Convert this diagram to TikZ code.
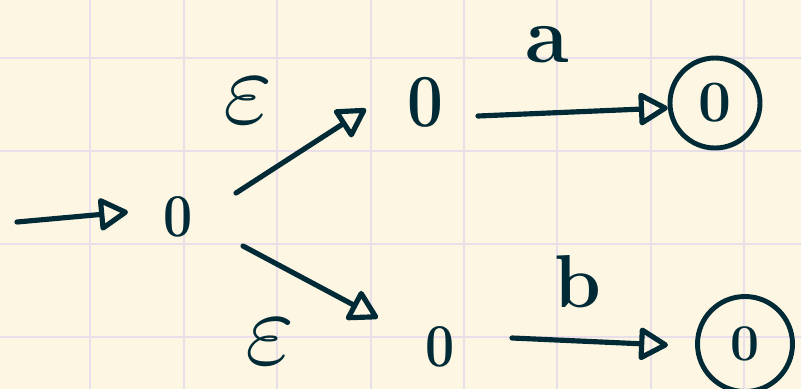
\documentclass[tikz,border=0pt]{standalone}
\usepackage{tikz}
\usetikzlibrary{arrows.meta}

\definecolor{paper}{HTML}{FDF6E3}
\definecolor{ink}{HTML}{002B36}
\definecolor{gridline}{HTML}{E8DFEA}

\begin{document}
\begin{tikzpicture}[x=0.03cm, y=-0.03cm,
    state/.style={circle, inner sep=0pt, minimum size=1.5cm, text=ink, xscale=0.85,
        font=\fontsize{52}{62}\selectfont\bfseries},
    accept/.style={circle, draw=ink, line width=4.2pt, inner sep=0pt,
        minimum size=2.7cm, text=ink, font=\fontsize{50}{60}\selectfont\bfseries},
    lbl/.style={inner sep=0pt, text=ink},
    edge/.style={draw=ink, line width=4.4pt, line cap=round,
        -{Triangle[open, round, length=0.95cm, width=1.05cm]}}]

    % パラメータの定義
    \pgfmathsetmacro{\gap}{93.4}

    % 背景と方眼
    \useasboundingbox (0,0) rectangle (801,389);
    \fill[paper] (0,0) rectangle (801,389);
    \foreach \i in {0,...,7}
        \draw[gridline, line width=1.6pt] ({90.4+\gap*\i},0) -- ({90.4+\gap*\i},389);
    \foreach \j in {0,...,3}
        \draw[gridline, line width=1.6pt] (0,{58+93*\j}) -- (801,{58+93*\j});

    % 状態の定義
    \node[state] (q0) at (178,217) {0};
    \node[state, font=\fontsize{64}{74}\selectfont\bfseries] (q1) at (425,102) {0};
    \node[state] (q2) at (440,347) {0};
    \node[accept] (f1) at (715,103) {0};
    \node[accept, minimum size=2.85cm, font=\fontsize{44}{52}\selectfont\bfseries] (f2) at (745,344) {0};

    % ラベルの定義
    \node[lbl, scale=9] (eps1) at (248,101) {$\varepsilon$};
    \node[lbl, font=\fontsize{68}{80}\selectfont\bfseries] (la) at (547,45) {a};
    \node[lbl, scale=9] (eps2) at (270,342) {$\varepsilon$};
    \node[lbl, font=\fontsize{64}{76}\selectfont\bfseries] (lb) at (578,282) {b};

    % 矢印の描画
    \coordinate (init) at (17,222);
    \draw[edge] (init) -- ([shift={(-50,-5)}]q0.center);
    \draw[edge] ([shift={(58,-24)}]q0.center) -- ([shift={(-59,7)}]q1.center);
    \draw[edge] ([shift={(65,29)}]q0.center) -- ([shift={(-62,-29)}]q2.center);
    \draw[edge] ([shift={(53,14)}]q1.center) -- (f1.186);
    \draw[edge] ([shift={(72,-9)}]q2.center) -- ([shift={(-77,1)}]f2.center);

\end{tikzpicture}
\end{document}
